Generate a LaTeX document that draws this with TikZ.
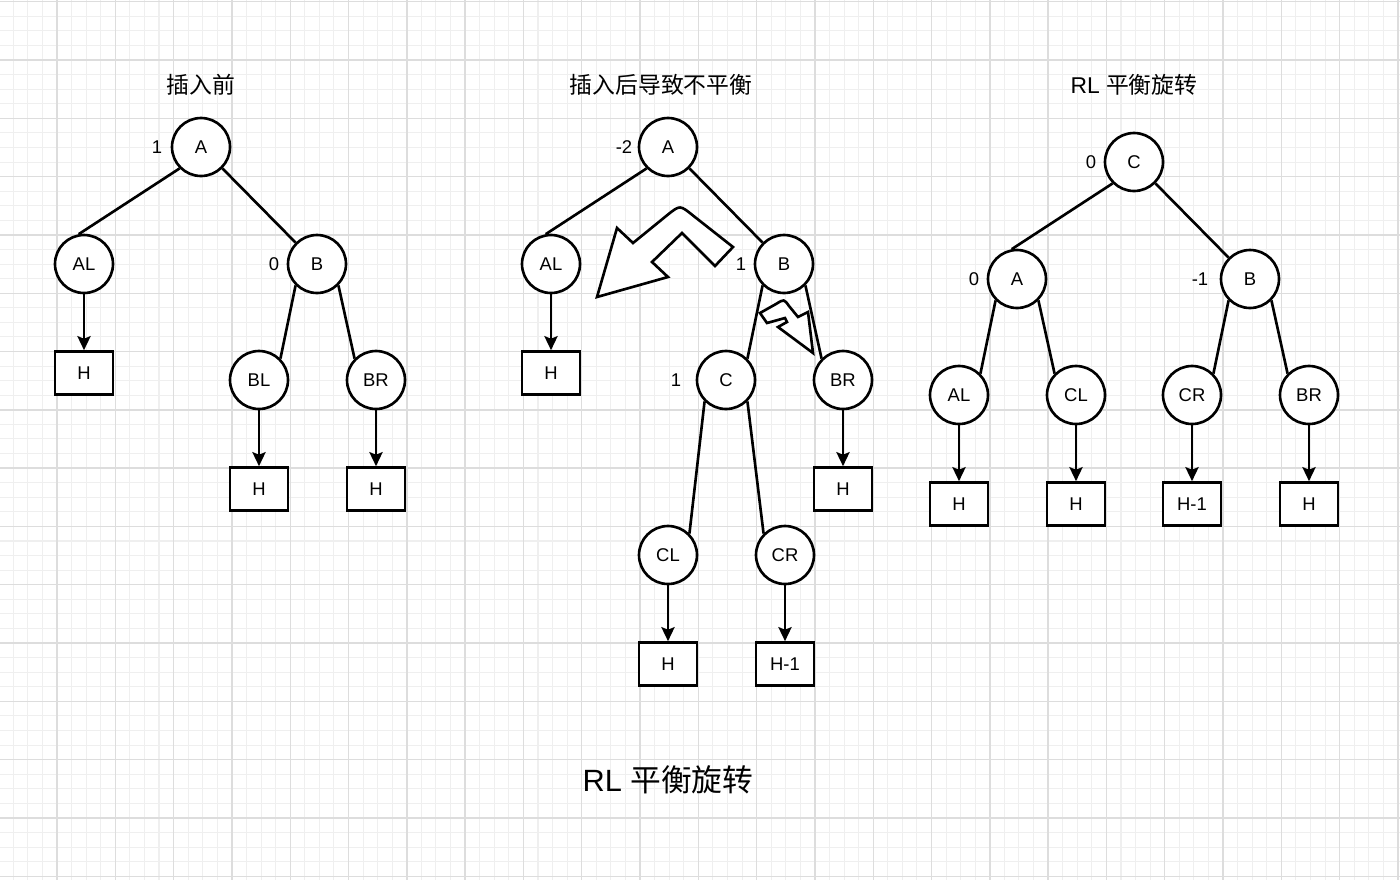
\documentclass[tikz,border=0pt]{standalone}
\usepackage{fontspec}
\setmainfont{Liberation Sans}
\newfontfamily\cjk{Noto Sans CJK SC}
\usetikzlibrary{arrows.meta}
\definecolor{gridminor}{HTML}{EFEFEF}
\definecolor{gridmajor}{HTML}{DDDDDD}

\begin{document}
\begin{tikzpicture}[
  x=0.02cm, y=-0.02cm,
  >=Stealth,
  avlnode/.style={draw, circle, line width=1.5pt, fill=white, minimum size=1.16cm, inner sep=0pt, font=\fontsize{10.5}{12}\selectfont},
  hbox/.style={draw, rectangle, line width=1.5pt, fill=white, minimum width=1.16cm, minimum height=0.86cm, inner sep=0pt, font=\fontsize{10.5}{12}\selectfont},
  bal/.style={font=\fontsize{10.5}{12}\selectfont},
  heading/.style={font=\fontsize{13}{15}\selectfont},
  treeline/.style={line width=1.5pt},
  arr/.style={-{Stealth[length=8pt,width=7.5pt,inset=1.5pt]}, line width=1.5pt},
  turnarrow/.style={draw, line width=1.5pt, fill=white, line join=miter}
]
  \useasboundingbox (0,0) rectangle (1400,880);
  \fill[white] (0,0) rectangle (1400,880);
  % grid
  \foreach \i in {-3,...,92} {
    \draw[gridminor, line width=0.6pt] ({57+14.575*\i},0) -- ({57+14.575*\i},880);
  }
  \foreach \i in {-4,...,56} {
    \draw[gridminor, line width=0.6pt] (0,{60+14.575*\i}) -- (1400,{60+14.575*\i});
  }
  \foreach \i in {-1,...,23} {
    \draw[gridmajor, line width=0.8pt] ({57+58.3*\i},0) -- ({57+58.3*\i},880);
  }
  \foreach \i in {-1,...,14} {
    \draw[gridmajor, line width=0.8pt] (0,{60+58.3*\i}) -- (1400,{60+58.3*\i});
  }

  % before insertion
  \node[heading] (t1) at (201,85) {{\cjk 插入前}};
  \node[avlnode] (a1) at (201,147) {A};
  \node[avlnode] (al1) at (84,264) {AL};
  \node[avlnode] (b1) at (317,264) {B};
  \node[avlnode] (bl1) at (259,380) {BL};
  \node[avlnode] (br1) at (376,380) {BR};
  \node[hbox] (hal1) at (84,373) {H};
  \node[hbox] (hbl1) at (259,489) {H};
  \node[hbox] (hbr1) at (376,489) {H};
  \node[bal] (fa1) at (157,147) {1};
  \node[bal] (fb1) at (274,264) {0};
  \draw[treeline] (a1.south west) -- (al1.100);
  \foreach \a/\b in {b1/bl1}
    \draw[treeline] (\a.south west) -- (\b.north east);
  \foreach \a/\b in {a1/b1,b1/br1}
    \draw[treeline] (\a.south east) -- (\b.north west);
  \foreach \a/\b in {al1/hal1,bl1/hbl1,br1/hbr1}
    \draw[arr] (\a) -- (\b);

  % after insertion, unbalanced
  \node[heading] (t2) at (661,85) {{\cjk 插入后导致不平衡}};
  \node[avlnode] (a2) at (668,147) {A};
  \node[avlnode] (al2) at (551,264) {AL};
  \node[avlnode] (b2) at (784,264) {B};
  \node[avlnode] (c2) at (726,380) {C};
  \node[avlnode] (br2) at (843,380) {BR};
  \node[avlnode] (cl2) at (668,555) {CL};
  \node[avlnode] (cr2) at (785,555) {CR};
  \node[hbox] (hal2) at (551,373) {H};
  \node[hbox] (hbr2) at (843,489) {H};
  \node[hbox] (hcl2) at (668,664) {H};
  \node[hbox] (hcr2) at (785,664) {H-1};
  \node[bal] (fa2) at (624,147) {-2};
  \node[bal] (fb2) at (741,264) {1};
  \node[bal] (fc2) at (676,380) {1};
  \draw[treeline] (a2.south west) -- (al2.100);
  \foreach \a/\b in {b2/c2,c2/cl2}
    \draw[treeline] (\a.south west) -- (\b.north east);
  \foreach \a/\b in {a2/b2,b2/br2,c2/cr2}
    \draw[treeline] (\a.south east) -- (\b.north west);
  \foreach \a/\b in {al2/hal2,br2/hbr2,cl2/hcl2,cr2/hcr2}
    \draw[arr] (\a) -- (\b);
  % rotation hints
  \draw[turnarrow] (597,297) -- (617,228) -- (633,243) -- (668,214.5)
    .. controls (680,205) .. (693,215.5) -- (733,247) -- (715,266)
    -- (682,233) -- (652,262) -- (668,277) -- cycle;
  \draw[turnarrow] (760,313) -- (776,304) .. controls (784,299) .. (789,306)
    -- (798,317) -- (808,312) -- (813,353) -- (778,327) -- (787,322)
    -- (785,318) -- (767,323) -- cycle;

  % after RL rotation
  \node[heading] (t3) at (1134,85) {RL {\cjk 平衡旋转}};
  \node[avlnode] (c3) at (1134,162) {C};
  \node[avlnode] (a3) at (1017,279) {A};
  \node[avlnode] (b3) at (1250,279) {B};
  \node[avlnode] (al3) at (959,395) {AL};
  \node[avlnode] (cl3) at (1076,395) {CL};
  \node[avlnode] (cr3) at (1192,395) {CR};
  \node[avlnode] (br3) at (1309,395) {BR};
  \node[hbox] (hal3) at (959,504) {H};
  \node[hbox] (hcl3) at (1076,504) {H};
  \node[hbox] (hcr3) at (1192,504) {H-1};
  \node[hbox] (hbr3) at (1309,504) {H};
  \node[bal] (fc3) at (1091,162) {0};
  \node[bal] (fa3) at (974,279) {0};
  \node[bal] (fb3) at (1200,279) {-1};
  \draw[treeline] (c3.south west) -- (a3.100);
  \foreach \a/\b in {a3/al3,b3/cr3}
    \draw[treeline] (\a.south west) -- (\b.north east);
  \foreach \a/\b in {c3/b3,a3/cl3,b3/br3}
    \draw[treeline] (\a.south east) -- (\b.north west);
  \foreach \a/\b in {al3/hal3,cl3/hcl3,cr3/hcr3,br3/hbr3}
    \draw[arr] (\a) -- (\b);

  \node[font=\fontsize{17.5}{20}\selectfont] (caption) at (668,780) {RL {\cjk 平衡旋转}};
\end{tikzpicture}
\end{document}
